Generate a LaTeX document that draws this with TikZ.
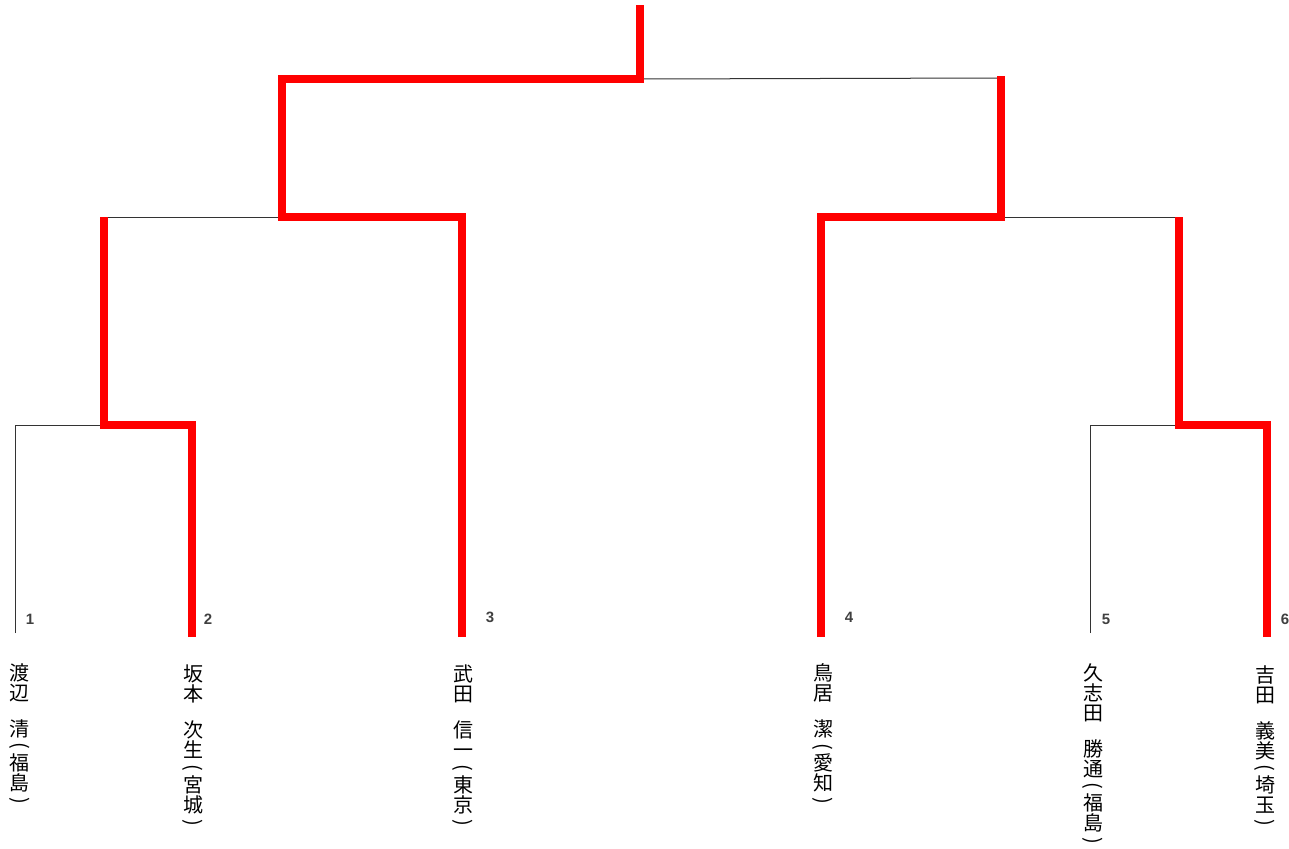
\documentclass[tikz,border=0pt]{standalone}
\usepackage{fontspec}
\usepackage{graphicx}
\newfontfamily\jpfont{Noto Sans CJK JP}
\newfontfamily\numfont{Liberation Sans}
\newcommand\vpo{\raisebox{-4.5pt}{\rotatebox[origin=c]{-90}{(}}}
\newcommand\vpc{\raisebox{-4.5pt}{\rotatebox[origin=c]{-90}{)}}}
\begin{document}
\begin{tikzpicture}[x=1pt,y=-1pt,
  loser/.style={line width=1pt, black!80, line cap=butt},
  winner/.style={line width=7.3pt, red, line join=miter, line cap=butt},
  pname/.style={anchor=north, inner sep=0pt, align=center, text=black,
    font=\jpfont\fontsize{20pt}{20pt}\selectfont},
  pnum/.style={inner sep=0pt, text=black!75, font=\numfont\bfseries\fontsize{15pt}{15pt}\selectfont}]
\useasboundingbox (0,0) rectangle (1289,848);
% coordinates
\coordinate (p1) at (15,633);
\coordinate (p2) at (192,637);
\coordinate (p3) at (462,637);
\coordinate (p4) at (821,637);
\coordinate (p5) at (1090,633);
\coordinate (p6) at (1267,637);
\coordinate (a) at (104,425);
\coordinate (b) at (1179,425);
\coordinate (m1) at (104,217);
\coordinate (m2) at (1179,217);
\coordinate (c) at (282,217);
\coordinate (d) at (1001,217);
\coordinate (top) at (640,79);
\coordinate (r1) at (1001,76);
\coordinate (r0) at (1001,78);
\coordinate (champ) at (640,5);
% losing lines
\draw[loser] (p1) |- (a);
\draw[loser] (m1) -- (c);
\draw[loser] (top) -- (r0);
\draw[loser] (d) -- (m2);
\draw[loser] (p5) |- (b);
% winning lines
\draw[winner] (p2) |- (a) -- (m1);
\draw[winner] (p3) |- (c) |- (top) -- (champ);
\draw[winner] (p4) |- (d) -- (r1);
\draw[winner] (p6) |- (b) -- (m2);
% numbers
\node[pnum] (n1) at (30,619) {1};
\node[pnum] (n2) at (208,619) {2};
\node[pnum] (n3) at (490,617) {3};
\node[pnum] (n4) at (849,617) {4};
\node[pnum] (n5) at (1106,619) {5};
\node[pnum] (n6) at (1285,619) {6};
% names
\node[pname] (name1) at (20,663) {渡\\辺\\[16pt]清\\[-8pt]\vpo\\福\\島\\[-8pt]\vpc};
\node[pname] (name2) at (193,665) {坂\\本\\[16pt]次\\生\\[-8pt]\vpo\\宮\\城\\[-8pt]\vpc};
\node[pname] (name3) at (463,665) {武\\田\\[16pt]信\\一\\[-8pt]\vpo\\東\\京\\[-8pt]\vpc};
\node[pname] (name4) at (823,663) {鳥\\居\\[16pt]潔\\[-8pt]\vpo\\愛\\知\\[-8pt]\vpc};
\node[pname] (name5) at (1093,663) {久\\志\\田\\[16pt]勝\\通\\[-8pt]\vpo\\福\\島\\[-8pt]\vpc};
\node[pname] (name6) at (1265,665) {吉\\田\\[16pt]義\\美\\[-8pt]\vpo\\埼\\玉\\[-8pt]\vpc};
\end{tikzpicture}
\end{document}
